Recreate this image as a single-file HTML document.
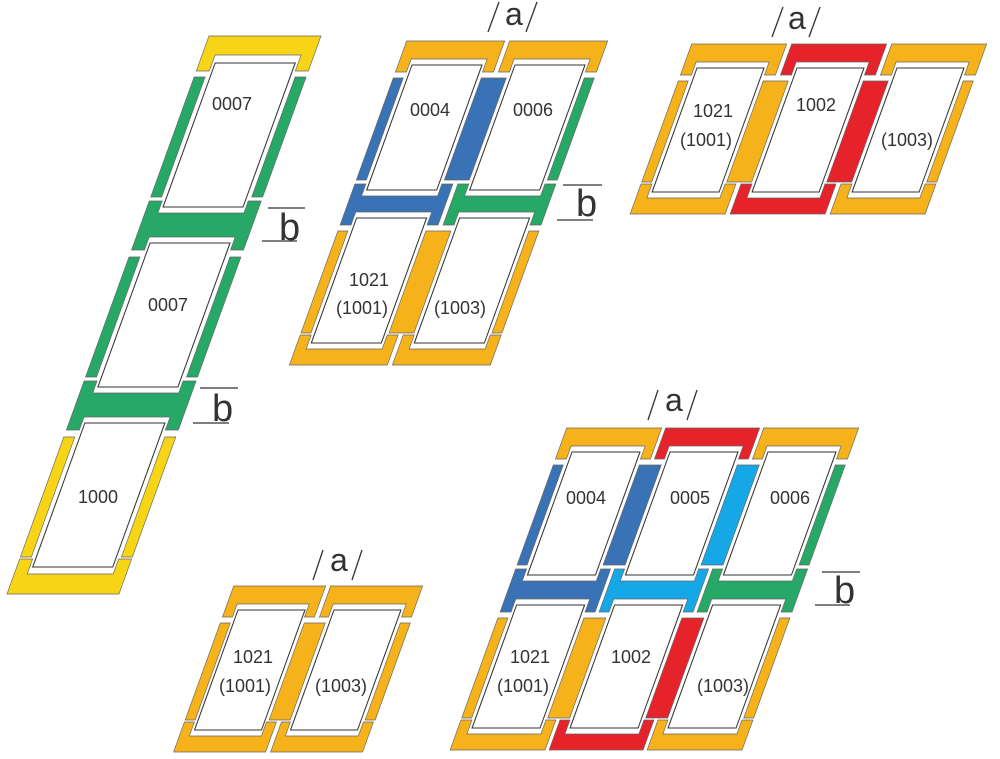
<!DOCTYPE html>
<html><head><meta charset="utf-8"><style>
html,body{margin:0;padding:0;background:#fff;}
svg{display:block;}
.y{fill:#f7d416}.o{fill:#f6b21b}.g{fill:#27a866}.b{fill:#3a72b6}.l{fill:#16a8e6}.r{fill:#e6232a}
path,rect{stroke:#666;stroke-width:0.7;}
.gl{fill:#fff;stroke:#333;stroke-width:1.1;}
text{font-family:"Liberation Sans",sans-serif;fill:#333;}
.n{font-size:18px;text-anchor:middle;}
.a{font-size:32px;}
.bb{font-size:38px;}
line{stroke:#333;stroke-width:1.3;}
</style></head><body>
<svg width="1000" height="759" viewBox="0 0 1000 759" xmlns="http://www.w3.org/2000/svg">
<g transform="skewX(-19.9)">
<!-- G1 -->
<g transform="translate(238,63)">
<path class="y" d="M-16,-27 H96 V8 H83 V-8 H-3 V8 H-16Z"/>
<rect class="g" x="-16" y="14" width="11" height="120"/>
<rect class="g" x="85" y="14" width="11" height="120"/>
<path class="g" d="M-16,138 H-3 V150 H83 V138 H96 V187 H83 V174 H-3 V187 H-16Z"/>
<rect class="g" x="-16" y="194" width="11" height="120"/>
<rect class="g" x="85" y="194" width="11" height="120"/>
<path class="g" d="M-16,318 H-3 V330 H83 V318 H96 V367 H83 V354 H-3 V367 H-16Z"/>
<rect class="y" x="-16" y="374" width="11" height="120"/>
<rect class="y" x="85" y="374" width="11" height="120"/>
<path class="y" d="M-16,531 H96 V496 H83 V511 H-3 V496 H-16Z"/>
<rect class="gl" x="0" y="0" width="80" height="144"/>
<rect class="gl" x="0" y="180" width="80" height="144"/>
<rect class="gl" x="0" y="360" width="80" height="144"/>
</g>
<!-- G2 -->
<g transform="translate(435.5,65)">
<path class="o" d="M-14,-24 H84 V7 H73 V-6 H-3 V7 H-14Z"/>
<path class="o" d="M89,-24 H187 V7 H176 V-6 H100 V7 H89Z"/>
<rect class="b" x="-14" y="13" width="10" height="102"/>
<rect class="b" x="74" y="13" width="25" height="102"/>
<rect class="g" x="177" y="13" width="10" height="102"/>
<path class="b" d="M-14,119 H-3 V131 H73 V119 H84 V160 H73 V147 H-3 V160 H-14Z"/>
<path class="g" d="M89,119 H100 V131 H176 V119 H187 V160 H176 V147 H100 V160 H89Z"/>
<rect class="o" x="-14" y="166" width="10" height="102"/>
<rect class="o" x="74" y="166" width="25" height="102"/>
<rect class="o" x="177" y="166" width="10" height="102"/>
<path class="o" d="M-14,300 H84 V270 H73 V284 H-3 V270 H-14Z"/>
<path class="o" d="M89,300 H187 V270 H176 V284 H100 V270 H89Z"/>
<rect class="gl" x="0" y="0" width="70" height="125"/>
<rect class="gl" x="103" y="0" width="70" height="125"/>
<rect class="gl" x="0" y="153" width="70" height="125"/>
<rect class="gl" x="103" y="153" width="70" height="125"/>
</g>
<!-- G3 -->
<g transform="translate(721.6,68)">
<path class="o" d="M-14,-24 H81 V7 H70 V-6 H-3 V7 H-14Z"/>
<path class="r" d="M86,-24 H181 V7 H170 V-6 H97 V7 H86Z"/>
<path class="o" d="M186,-24 H281 V7 H270 V-6 H197 V7 H186Z"/>
<rect class="o" x="-14" y="13" width="10" height="101"/>
<rect class="o" x="71" y="13" width="25" height="101"/>
<rect class="r" x="171" y="13" width="25" height="101"/>
<rect class="o" x="271" y="13" width="10" height="101"/>
<path class="o" d="M-14,146 H81 V116 H70 V130 H-3 V116 H-14Z"/>
<path class="r" d="M86,146 H181 V116 H170 V130 H97 V116 H86Z"/>
<path class="o" d="M186,146 H281 V116 H270 V130 H197 V116 H186Z"/>
<rect class="gl" x="0" y="0" width="67" height="124"/>
<rect class="gl" x="100" y="0" width="67" height="124"/>
<rect class="gl" x="200" y="0" width="67" height="124"/>
</g>
<!-- G4 -->
<g transform="translate(458.8,610)">
<path class="o" d="M-13,-24 H79 V7 H69 V-6 H-3 V7 H-13Z"/>
<path class="o" d="M84,-24 H176 V7 H166 V-6 H93 V7 H84Z"/>
<rect class="o" x="-13" y="13" width="10" height="97"/>
<rect class="o" x="71" y="13" width="21" height="97"/>
<rect class="o" x="167" y="13" width="10" height="97"/>
<path class="o" d="M-13,142 H79 V112 H69 V126 H-3 V112 H-13Z"/>
<path class="o" d="M84,142 H176 V112 H166 V126 H93 V112 H84Z"/>
<rect class="gl" x="0" y="0" width="67" height="120"/>
<rect class="gl" x="96" y="0" width="67" height="120"/>
</g>
<!-- G5 -->
<g transform="translate(735.6,452)">
<path class="o" d="M-14,-24 H81 V7 H71 V-6 H-3 V7 H-14Z"/>
<path class="r" d="M85,-24 H179 V7 H169 V-6 H95 V7 H85Z"/>
<path class="o" d="M183,-24 H278 V7 H267 V-6 H193 V7 H183Z"/>
<rect class="b" x="-14" y="13" width="10" height="100"/>
<rect class="b" x="72" y="13" width="22" height="100"/>
<rect class="l" x="170" y="13" width="22" height="100"/>
<rect class="g" x="268" y="13" width="10" height="100"/>
<path class="b" d="M-14,117 H-3 V129 H71 V117 H81 V160 H71 V147 H-3 V160 H-14Z"/>
<path class="l" d="M85,117 H95 V129 H169 V117 H179 V160 H169 V147 H95 V160 H85Z"/>
<path class="g" d="M183,117 H193 V129 H267 V117 H278 V160 H267 V147 H193 V160 H183Z"/>
<rect class="o" x="-14" y="166" width="10" height="100"/>
<rect class="o" x="72" y="166" width="22" height="100"/>
<rect class="r" x="170" y="166" width="22" height="100"/>
<rect class="o" x="268" y="166" width="10" height="100"/>
<path class="o" d="M-14,298 H81 V268 H71 V282 H-3 V268 H-14Z"/>
<path class="r" d="M85,298 H179 V268 H169 V282 H95 V268 H85Z"/>
<path class="o" d="M183,298 H278 V268 H267 V282 H193 V268 H183Z"/>
<rect class="gl" x="0" y="0" width="68" height="123"/>
<rect class="gl" x="98" y="0" width="68" height="123"/>
<rect class="gl" x="196" y="0" width="68" height="123"/>
<rect class="gl" x="0" y="153" width="68" height="123"/>
<rect class="gl" x="98" y="153" width="68" height="123"/>
<rect class="gl" x="196" y="153" width="68" height="123"/>
</g>
</g>

<!-- labels -->
<text class="n" x="232" y="110">0007</text>
<text class="n" x="168" y="311">0007</text>
<text class="n" x="98" y="503">1000</text>

<text class="n" x="430" y="116">0004</text>
<text class="n" x="533" y="116">0006</text>
<text class="n" x="369" y="286">1021</text>
<text class="n" x="362" y="314">(1001)</text>
<text class="n" x="460" y="314">(1003)</text>

<text class="n" x="713" y="117">1021</text>
<text class="n" x="706" y="146">(1001)</text>
<text class="n" x="816" y="111">1002</text>
<text class="n" x="907" y="146">(1003)</text>

<text class="n" x="253" y="663">1021</text>
<text class="n" x="245" y="692">(1001)</text>
<text class="n" x="341" y="692">(1003)</text>

<text class="n" x="586" y="504">0004</text>
<text class="n" x="690" y="504">0005</text>
<text class="n" x="790" y="504">0006</text>
<text class="n" x="530" y="663">1021</text>
<text class="n" x="523" y="692">(1001)</text>
<text class="n" x="631" y="663">1002</text>
<text class="n" x="723" y="692">(1003)</text>

<!-- a labels -->
<line x1="488" y1="32" x2="499" y2="2"/><text class="a" x="505" y="25">a</text><line x1="526" y1="32" x2="537" y2="2"/>
<line x1="772" y1="37" x2="783" y2="7"/><text class="a" x="788" y="29">a</text><line x1="809" y1="37" x2="820" y2="7"/>
<line x1="313" y1="580" x2="323" y2="550"/><text class="a" x="330" y="571">a</text><line x1="352" y1="580" x2="362" y2="550"/>
<line x1="648" y1="420" x2="658" y2="390"/><text class="a" x="665" y="411">a</text><line x1="687" y1="420" x2="697" y2="390"/>

<!-- b labels -->
<line x1="268" y1="208" x2="305" y2="208"/><text class="bb" x="279" y="240">b</text><line x1="262" y1="241" x2="297" y2="241"/>
<line x1="200" y1="388" x2="238" y2="388"/><text class="bb" x="212" y="421">b</text><line x1="193" y1="423" x2="229" y2="423"/>
<line x1="563" y1="185" x2="602" y2="185"/><text class="bb" x="576" y="216">b</text><line x1="557" y1="220" x2="593" y2="220"/>
<line x1="822" y1="572" x2="860" y2="572"/><text class="bb" x="834" y="603">b</text><line x1="815" y1="605" x2="850" y2="605"/>
</svg>
</body></html>
